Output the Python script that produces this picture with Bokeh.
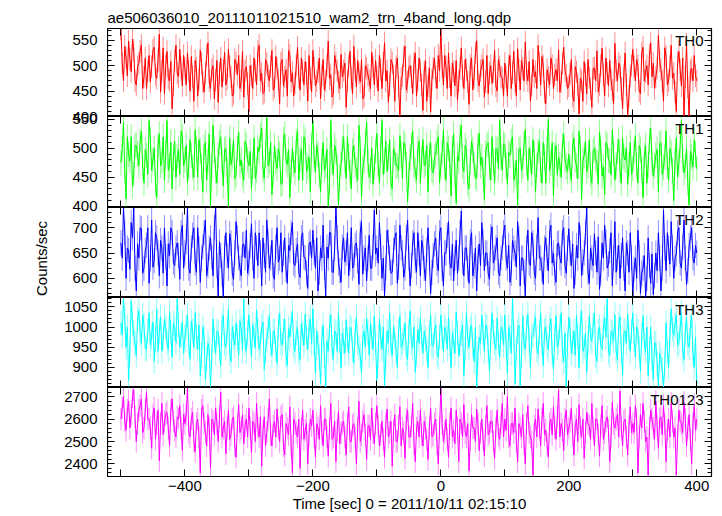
import math
from bokeh.plotting import figure
from bokeh.layouts import column, row
from bokeh.models import (Range1d, LinearAxis, SingleIntervalTicker, FixedTicker, Label,
                          CustomLabelingPolicy)
from bokeh.core.properties import value
from bokeh.embed import file_html
from bokeh.resources import INLINE

TITLE = "ae506036010_20111011021510_wam2_trn_4band_long.qdp"
X_LABEL = "Time [sec] 0 = 2011/10/11 02:15:10"
Y_LABEL = "Counts/sec"

# sample times (sec): set A every 4 s from -500, set B every 4 s from -498
TIME_A = list(range(-500, 401, 4))
TIME_B = list(range(-498, 400, 4))

BANDS = ["TH0", "TH1", "TH2", "TH3", "TH0123"]
COLORS = ["#ff0000", "#00ff00", "#0000ff", "#00ffff", "#ff00ff"]
# typical 1-sigma error of one sample (counts/sec)
ERRORS = [22, 22, 25, 31, 50]

th0_a = [572, 470, 515, 548, 488, 530, 462, 505, 540, 478, 455, 520, 498, 536, 475, 562, 490, 445, 528, 470, 415, 510, 485, 532, 460,
         495, 525, 450, 478, 510, 440, 530, 468, 485, 545, 455, 500, 472, 428, 515, 490, 462, 532, 478, 445, 505, 520, 470, 438, 498,
         410, 480, 515, 462, 540, 485, 448, 505, 470, 530, 458, 495, 425, 512, 478, 440, 520, 486, 465, 536, 452, 490, 508, 430, 475,
         530, 460, 488, 435, 512, 470, 548, 482, 445, 505, 468, 522, 490, 418, 500, 476, 538, 458, 485, 512, 440, 495, 470, 526, 462,
         478, 520, 455, 545, 490, 462, 505, 430, 515, 395, 480, 538, 468, 500, 445, 525, 472, 490, 412, 510, 460, 409, 495, 478, 520,
         573, 462, 498, 525, 440, 488, 510, 470, 535, 455, 492, 424, 515, 478, 549, 460, 500, 438, 520, 485, 465, 530, 450, 498, 476,
         505, 440, 520, 486, 468, 533, 452, 495, 546, 470, 430, 512, 488, 540, 462, 500, 425, 478, 515, 455, 492, 531, 468, 536, 480,
         460, 512, 430, 488, 405, 470, 508, 445, 476, 418, 495, 529, 462, 534, 440, 485, 510, 452, 544, 470, 498, 415, 525, 402, 480,
         532, 470, 500, 445, 536, 488, 462, 545, 505, 478, 559, 492, 430, 518, 470, 540, 485, 410, 528, 460, 402, 542, 400, 495, 520,
         470]
th0_b = [505, 538, 480, 512, 552, 470, 498, 528, 455, 515, 490, 468, 530, 482, 510, 448, 535, 500, 475, 508, 462, 540, 478, 495, 520,
         462, 490, 518, 430, 495, 472, 505, 448, 520, 470, 492, 435, 510, 485, 458, 526, 474, 498, 440, 512, 482, 455, 528, 490, 465,
         500, 455, 490, 528, 470, 445, 512, 480, 498, 452, 518, 472, 505, 460, 492, 530, 468, 440, 500, 478, 515, 462, 485, 520, 448,
         495, 470, 515, 480, 452, 500, 475, 438, 520, 490, 455, 478, 505, 470, 528, 445, 492, 510, 468, 435, 500, 482, 455, 498, 510,
         450, 492, 505, 470, 428, 512, 480, 498, 460, 475, 518, 452, 496, 478, 505, 440, 515, 462, 488, 430, 496, 472, 515, 455, 490,
         498, 520, 455, 478, 505, 460, 432, 495, 480, 512, 468, 500, 452, 525, 470, 490, 512, 468, 445, 500, 488, 460, 512, 478, 440,
         478, 500, 455, 528, 440, 492, 510, 470, 485, 508, 462, 478, 455, 505, 518, 448, 492, 462, 500, 482, 470, 448, 505, 490, 455,
         485, 440, 498, 462, 475, 430, 482, 512, 455, 495, 470, 448, 500, 482, 515, 460, 472, 425, 490, 505, 455, 480, 462, 440, 500,
         498, 512, 450, 525, 470, 500, 520, 478, 455, 495, 510, 470, 535, 462, 498, 475, 448, 505, 492, 515, 478, 458, 490, 470, 480]

th1_a = [475, 545, 413, 490, 520, 455, 505, 470, 530, 440, 488, 548, 462, 500, 415, 525, 478, 445, 548, 470, 430, 512, 485, 455, 520,
         480, 440, 515, 468, 532, 450, 495, 425, 510, 478, 400, 540, 462, 488, 520, 435, 500, 400, 472, 515, 455, 528, 480, 445, 505,
         470, 430, 518, 462, 495, 535, 448, 553, 478, 420, 505, 465, 490, 440, 525, 472, 415, 500, 458, 530, 482, 445, 512, 468, 425,
         548, 460, 490, 425, 510, 470, 400, 548, 455, 495, 402, 472, 520, 448, 485, 430, 505, 462, 540, 415, 478, 545, 450, 500, 468,
         526, 440, 548, 478, 460, 515, 430, 492, 470, 522, 448, 505, 408, 485, 530, 462, 498, 440, 515, 475, 425, 510, 458, 490, 520,
         470, 532, 445, 500, 418, 525, 405, 478, 540, 460, 495, 430, 512, 470, 448, 526, 485, 412, 505, 468, 520, 440, 498, 548, 462,
         505, 438, 488, 520, 455, 402, 500, 470, 532, 445, 480, 515, 425, 495, 462, 510, 440, 550, 475, 418, 505, 485, 450, 525, 468,
         490, 445, 518, 470, 530, 412, 488, 460, 515, 440, 500, 475, 528, 452, 420, 505, 478, 532, 445, 495, 462, 518, 480, 438, 510,
         465, 522, 440, 498, 415, 505, 470, 535, 452, 488, 425, 510, 468, 530, 445, 492, 410, 518, 475, 548, 458, 500, 402, 485, 515,
         465]
th1_b = [500, 462, 520, 478, 435, 505, 490, 512, 468, 498, 455, 515, 480, 440, 505, 470, 520, 492, 462, 510, 485, 450, 498, 530, 470,
         505, 470, 488, 450, 498, 515, 468, 502, 445, 525, 470, 495, 440, 510, 478, 498, 462, 518, 485, 448, 500, 470, 455, 512, 480,
         495, 470, 448, 502, 522, 465, 490, 470, 510, 455, 478, 500, 438, 515, 480, 498, 462, 472, 512, 445, 498, 520, 460, 485, 505,
         480, 505, 455, 478, 462, 498, 440, 475, 505, 468, 452, 500, 478, 520, 458, 495, 472, 445, 500, 465, 510, 478, 462, 438, 495,
         472, 498, 455, 512, 485, 440, 500, 470, 462, 490, 510, 472, 455, 505, 470, 445, 512, 482, 470, 505, 490, 462, 485, 510, 440,
         492, 468, 510, 475, 500, 455, 488, 520, 470, 505, 440, 478, 498, 452, 505, 470, 460, 492, 510, 445, 478, 500, 465, 485, 508,
         470, 492, 512, 445, 480, 498, 462, 508, 475, 500, 455, 490, 470, 512, 440, 485, 498, 462, 510, 490, 455, 472, 505, 480, 460,
         462, 505, 480, 448, 500, 478, 512, 470, 455, 495, 482, 438, 500, 468, 510, 480, 455, 492, 470, 515, 440, 485, 500, 472, 455,
         495, 470, 505, 462, 488, 440, 512, 480, 470, 498, 508, 455, 485, 470, 500, 462, 478, 450, 505, 482, 470, 440, 495, 468, 490]

th2_a = [670, 740, 600, 655, 710, 740, 575, 640, 698, 620, 665, 590, 715, 635, 680, 605, 660, 700, 585, 645, 690, 625, 670, 598, 705,
         650, 740, 610, 685, 630, 700, 592, 662, 715, 625, 680, 605, 740, 565, 645, 562, 690, 620, 670, 598, 712, 640, 605, 668, 695,
         630, 708, 600, 660, 690, 585, 645, 715, 620, 675, 598, 700, 640, 612, 680, 590, 655, 710, 625, 668, 602, 690, 640, 580, 672,
         695, 620, 575, 660, 705, 565, 640, 690, 612, 740, 630, 592, 680, 650, 605, 700, 625, 670, 588, 712, 640, 595, 685, 620, 735,
         660, 710, 600, 565, 695, 640, 612, 680, 590, 705, 650, 620, 715, 585, 670, 635, 690, 605, 660, 595, 700, 570, 645, 680, 615,
         700, 585, 650, 712, 620, 595, 675, 640, 733, 605, 660, 590, 690, 625, 575, 668, 710, 615, 650, 598, 702, 640, 680, 605, 660,
         705, 620, 592, 675, 650, 712, 585, 640, 565, 695, 625, 670, 600, 720, 640, 588, 680, 615, 705, 650, 592, 670, 630, 700, 610,
         698, 625, 580, 665, 710, 605, 650, 740, 590, 640, 688, 612, 578, 670, 705, 620, 655, 585, 712, 640, 600, 680, 575, 650, 690,
         565, 640, 695, 570, 620, 562, 680, 590, 568, 650, 690, 575, 735, 615, 660, 712, 600, 648, 700, 620, 715, 588, 665, 700, 630,
         650]
th2_b = [640, 690, 660, 618, 680, 620, 668, 700, 610, 655, 700, 640, 622, 690, 650, 675, 610, 642, 668, 700, 632, 660, 645, 690, 620,
         672, 620, 660, 700, 612, 658, 640, 690, 605, 660, 642, 700, 625, 672, 610, 660, 645, 688, 610, 650, 680, 620, 666, 640, 610,
         665, 640, 690, 625, 650, 680, 612, 672, 640, 605, 662, 632, 690, 650, 618, 665, 690, 630, 655, 612, 680, 642, 610, 668, 640,
         650, 680, 612, 640, 622, 662, 690, 612, 660, 680, 615, 662, 632, 690, 640, 620, 665, 635, 690, 608, 660, 640, 620, 662, 648,
         630, 662, 640, 620, 672, 610, 655, 690, 622, 660, 602, 680, 640, 625, 690, 612, 650, 675, 620, 655, 640, 612, 668, 630, 690,
         620, 650, 685, 630, 668, 640, 610, 690, 632, 660, 620, 672, 605, 660, 640, 625, 672, 650, 610, 682, 630, 660, 612, 640, 690,
         640, 665, 610, 660, 622, 678, 640, 612, 660, 630, 690, 612, 662, 640, 618, 660, 640, 690, 630, 610, 668, 640, 690, 625, 660,
         650, 668, 612, 640, 680, 632, 690, 612, 660, 625, 650, 682, 610, 640, 672, 628, 690, 640, 612, 665, 645, 620, 670, 612, 640,
         618, 600, 650, 610, 645, 600, 625, 648, 605, 615, 640, 620, 660, 690, 628, 660, 640, 690, 630, 662, 640, 615, 680, 640, 665]

th3_a = [1010, 1070, 950, 868, 1065, 985, 930, 1040, 960, 1005, 945, 1035, 975, 915, 1045, 990, 940, 1020, 962, 1038, 925, 998, 1070, 950, 1012,
         975, 1030, 920, 990, 1035, 945, 880, 1000, 870, 960, 850, 1020, 935, 985, 905, 1028, 950, 1045, 915, 975, 1010, 930, 995, 1070, 940,
         1030, 925, 980, 1042, 945, 1000, 895, 968, 1025, 930, 990, 910, 1035, 955, 1020, 905, 975, 1038, 940, 1000, 920, 985, 1032, 945, 1020,
         1045, 885, 960, 860, 1005, 850, 940, 1030, 920, 985, 1035, 900, 965, 1018, 935, 995, 910, 1025, 948, 885, 990, 1022, 930, 975, 1028,
         870, 1020, 945, 855, 990, 1035, 930, 975, 900, 1028, 960, 1010, 920, 1040, 948, 888, 995, 1022, 935, 970, 900, 1030, 952, 1005, 925,
         1030, 940, 990, 1025, 900, 965, 1038, 928, 985, 880, 1035, 950, 1005, 915, 850, 975, 1030, 940, 1000, 890, 1035, 960, 1022, 925, 995,
         1030, 885, 975, 1073, 860, 990, 855, 1028, 945, 1032, 900, 980, 1025, 935, 1035, 905, 1000, 945, 1020, 895, 1028, 962, 1035, 915, 850,
         1025, 935, 990, 1030, 900, 1040, 950, 888, 1028, 965, 1035, 915, 1000, 945, 1022, 1070, 930, 985, 1030, 920, 1025, 880, 990, 1032, 940,
         1035, 925, 990, 890, 1028, 940, 880, 1000, 870, 960, 855, 920, 850, 1010, 900, 1045, 980, 1030, 960, 1035, 920, 1025, 950, 1028, 900,
         855]
th3_b = [980, 1020, 1000, 945, 1010, 960, 1020, 985, 1030, 948, 990, 955, 1012, 968, 940, 1025, 972, 1000, 945, 985, 1010, 962, 1005, 980, 935,
         1000, 958, 1015, 950, 975, 1005, 930, 975, 920, 945, 925, 968, 990, 945, 1010, 960, 990, 935, 1000, 955, 975, 1015, 942, 960, 985,
         975, 1005, 948, 990, 960, 1012, 940, 1000, 958, 990, 945, 1000, 962, 990, 930, 998, 1010, 955, 985, 940, 1008, 955, 975, 1000, 960,
         960, 990, 925, 970, 930, 965, 1000, 950, 990, 940, 965, 985, 935, 970, 1000, 945, 985, 960, 930, 975, 950, 985, 1010, 945, 960,
         930, 975, 1000, 925, 960, 955, 1000, 942, 990, 950, 975, 935, 990, 962, 1000, 935, 960, 975, 990, 945, 980, 955, 990, 935, 975,
         975, 1000, 945, 960, 985, 935, 985, 960, 1005, 945, 975, 995, 955, 1000, 935, 960, 985, 1005, 945, 970, 988, 945, 960, 1000, 955,
         955, 1000, 935, 980, 945, 1005, 930, 960, 998, 965, 975, 1005, 945, 985, 960, 990, 955, 1000, 935, 975, 950, 1000, 940, 985, 960,
         990, 960, 930, 975, 1010, 940, 985, 960, 975, 1005, 930, 990, 955, 1000, 975, 940, 990, 965, 940, 1005, 945, 985, 960, 975, 990,
         970, 1000, 945, 980, 960, 1000, 945, 925, 960, 910, 935, 895, 905, 940, 985, 995, 1005, 955, 1000, 940, 985, 960, 1000, 935, 975]

th0123_a = [2600, 2700, 2550, 2680, 2620, 2730, 2500, 2640, 2690, 2560, 2720, 2600, 2470, 2650, 2580, 2414, 2670, 2590, 2630, 2480, 2690, 2550, 2610, 2660, 2460,
            2580, 2741, 2520, 2630, 2455, 2600, 2360, 2660, 2540, 2620, 2380, 2590, 2650, 2500, 2720, 2560, 2445, 2640, 2530, 2610, 2430, 2665, 2560, 2490, 2600,
            2650, 2450, 2580, 2670, 2520, 2390, 2610, 2540, 2690, 2480, 2590, 2645, 2500, 2620, 2440, 2560, 2655, 2360, 2580, 2520, 2380, 2640, 2550, 2400, 2600,
            2640, 2430, 2560, 2660, 2480, 2600, 2435, 2670, 2520, 2410, 2635, 2540, 2590, 2440, 2655, 2500, 2580, 2400, 2680, 2530, 2620, 2420, 2570, 2650, 2490,
            2660, 2480, 2590, 2430, 2645, 2540, 2390, 2620, 2500, 2655, 2560, 2425, 2640, 2520, 2670, 2410, 2590, 2640, 2480, 2560, 2420, 2650, 2530, 2600, 2400,
            2741, 2500, 2600, 2430, 2650, 2550, 2640, 2410, 2580, 2665, 2520, 2370, 2620, 2560, 2645, 2460, 2600, 2435, 2660, 2540, 2590, 2425, 2640, 2510, 2670,
            2600, 2700, 2480, 2580, 2650, 2410, 2560, 2620, 2400, 2660, 2520, 2350, 2600, 2645, 2480, 2670, 2550, 2430, 2600, 2655, 2510, 2730, 2580, 2460, 2640,
            2560, 2650, 2440, 2600, 2665, 2520, 2425, 2630, 2570, 2670, 2480, 2600, 2435, 2660, 2540, 2610, 2410, 2675, 2560, 2620, 2725, 2480, 2600, 2440, 2655,
            2580, 2660, 2360, 2620, 2670, 2500, 2350, 2640, 2560, 2680, 2470, 2610, 2660, 2410, 2600, 2670, 2520, 2350, 2640, 2580, 2675, 2480, 2620, 2400, 2660,
            2600]
th0123_b = [2650, 2590, 2640, 2560, 2700, 2610, 2580, 2660, 2540, 2640, 2600, 2560, 2620, 2510, 2640, 2580, 2530, 2620, 2560, 2640, 2590, 2520, 2600, 2560, 2620,
            2620, 2540, 2600, 2500, 2580, 2520, 2640, 2580, 2480, 2560, 2600, 2530, 2580, 2610, 2520, 2590, 2560, 2510, 2600, 2480, 2570, 2540, 2620, 2570, 2520,
            2560, 2590, 2500, 2560, 2610, 2550, 2480, 2600, 2530, 2570, 2520, 2560, 2610, 2480, 2580, 2530, 2480, 2600, 2540, 2600, 2560, 2510, 2580, 2530, 2570,
            2520, 2580, 2510, 2540, 2600, 2520, 2560, 2510, 2590, 2550, 2490, 2580, 2520, 2580, 2500, 2570, 2520, 2560, 2500, 2590, 2530, 2570, 2510, 2540, 2580,
            2570, 2530, 2510, 2580, 2520, 2590, 2550, 2500, 2570, 2480, 2540, 2600, 2520, 2570, 2490, 2560, 2520, 2530, 2590, 2510, 2560, 2520, 2580, 2490, 2560,
            2580, 2540, 2510, 2580, 2520, 2490, 2560, 2600, 2520, 2540, 2580, 2510, 2560, 2500, 2580, 2540, 2510, 2570, 2530, 2590, 2500, 2560, 2530, 2580, 2520,
            2550, 2520, 2580, 2540, 2500, 2580, 2520, 2490, 2580, 2540, 2500, 2570, 2520, 2560, 2600, 2530, 2490, 2580, 2530, 2560, 2610, 2520, 2550, 2600, 2530,
            2590, 2530, 2570, 2500, 2560, 2600, 2540, 2580, 2510, 2560, 2600, 2530, 2570, 2510, 2590, 2550, 2520, 2580, 2600, 2520, 2560, 2590, 2520, 2570, 2540,
            2540, 2600, 2520, 2560, 2590, 2520, 2560, 2600, 2510, 2570, 2600, 2530, 2580, 2550, 2520, 2590, 2560, 2520, 2590, 2540, 2600, 2560, 2510, 2580, 2550]

SERIES_A = [th0_a, th1_a, th2_a, th3_a, th0123_a]
SERIES_B = [th0_b, th1_b, th2_b, th3_b, th0123_b]

X_START, X_END = -521, 423
Y_RANGES = [(400, 573), (398, 555), (562, 740), (850.5, 1073), (2344, 2741)]
Y_STEP = [50, 50, 50, 50, 100]
Y_TICKS = [[400, 450, 500, 550], [400, 450, 500, 550], [600, 650, 700],
           [900, 950, 1000, 1050], [2400, 2500, 2600, 2700]]
X_TICKS = [-500, -400, -300, -200, -100, 0, 100, 200, 300, 400]
X_TICK_LABELS = {-500: "", -400: "\u2212400", -300: "", -200: "\u2212200", -100: "",
                 0: "0", 100: "", 200: "200", 300: "", 400: "400"}

FONT = "Liberation Sans"
FRAME_W = 604
FRAME_H = [88, 91, 90, 90, 89]
TOP_BORDER = 28
BOTTOM_BORDER = 39
LEFT_W = 107
RIGHT_BORDER = 4
TOTAL_H = TOP_BORDER + sum(FRAME_H) + BOTTOM_BORDER

NO_LABELS = CustomLabelingPolicy(code="""
const all = [];
for (const i of indices) all.push(i);
for (const i of all) indices.unset(i);
return indices;
""")

# ---- left strip carrying the y tick labels and the y axis title ----
left_fig = figure(width=LEFT_W, height=TOTAL_H, x_range=Range1d(0, LEFT_W),
                  y_range=Range1d(0, TOTAL_H), output_backend="svg",
                  toolbar_location=None, x_axis_location=None, y_axis_location=None,
                  min_border=0, min_border_left=0, min_border_right=0,
                  min_border_top=0, min_border_bottom=0)
left_fig.outline_line_color = None
left_fig.grid.visible = False
left_fig.background_fill_color = "white"
left_fig.border_fill_color = "white"

x_range = Range1d(X_START, X_END)
figs = []
n = len(BANDS)
px_top = TOP_BORDER
for i in range(n):
    first = i == 0
    last = i == n - 1
    top = TOP_BORDER if first else 0
    bot = BOTTOM_BORDER if last else 0
    a, b = Y_RANGES[i]

    # matching range in the left strip so that tick labels line up with this panel
    k = (b - a) / FRAME_H[i]
    px_bot = px_top + FRAME_H[i]
    rname = "p%d" % i
    left_fig.extra_y_ranges[rname] = Range1d(a - (TOTAL_H - px_bot) * k, b + px_top * k)
    left_fig.text(x=[97] * len(Y_TICKS[i]), y=Y_TICKS[i], text=[str(t) for t in Y_TICKS[i]],
                  y_range_name=rname, text_align="right", text_baseline="middle",
                  text_font=value(FONT), text_font_size="15px", text_color="black")
    px_top = px_bot

    p = figure(width=FRAME_W + RIGHT_BORDER, height=FRAME_H[i] + top + bot,
               x_range=x_range, y_range=Range1d(a, b),
               output_backend="svg", toolbar_location=None,
               x_axis_location=None, y_axis_location=None,
               min_border_left=0, min_border_right=RIGHT_BORDER,
               min_border_top=top, min_border_bottom=bot,
               title=TITLE if first else None)
    p.grid.visible = False
    p.outline_line_color = "black"
    p.outline_line_width = 1.2
    p.background_fill_color = "white"
    p.border_fill_color = "white"
    if first:
        p.title.text_font = FONT
        p.title.text_font_size = "15px"
        p.title.text_font_style = "normal"
        p.title.text_color = "black"
        p.title.align = "left"
        p.title.offset = 0
        p.title.standoff = 5

    def yaxis():
        ax = LinearAxis(ticker=SingleIntervalTicker(interval=Y_STEP[i], num_minor_ticks=5),
                        major_tick_in=7, major_tick_out=0,
                        minor_tick_in=4, minor_tick_out=0,
                        axis_line_color="black", major_tick_line_color="black",
                        minor_tick_line_color="black",
                        major_label_text_font_size="0px", major_label_standoff=0,
                        major_label_policy=NO_LABELS)
        return ax

    def xaxis(labels):
        ax = LinearAxis(ticker=FixedTicker(ticks=X_TICKS),
                        major_tick_in=7, major_tick_out=0,
                        minor_tick_line_color=None,
                        axis_line_color="black", major_tick_line_color="black")
        if labels:
            ax.major_label_overrides = X_TICK_LABELS
            ax.major_label_text_font = FONT
            ax.major_label_text_font_size = "15px"
            ax.major_label_text_color = "black"
            ax.major_label_standoff = 4
            ax.axis_label = X_LABEL
            ax.axis_label_text_font = FONT
            ax.axis_label_text_font_size = "15px"
            ax.axis_label_text_font_style = "normal"
            ax.axis_label_text_color = "black"
            ax.axis_label_standoff = 1
        else:
            ax.major_label_text_font_size = "0px"
            ax.major_label_standoff = 0
            ax.major_label_policy = NO_LABELS
        return ax

    p.add_layout(yaxis(), "left")
    p.add_layout(yaxis(), "right")
    p.add_layout(xaxis(last), "below")
    p.add_layout(xaxis(False), "above")

    # merge the two interleaved sample sets in time order
    ta, va = TIME_A, SERIES_A[i]
    tb, vb = TIME_B, SERIES_B[i]
    ts, vs = [], []
    for k2 in range(len(ta)):
        ts.append(ta[k2]); vs.append(va[k2])
        if k2 < len(tb):
            ts.append(tb[k2]); vs.append(vb[k2])
    err = ERRORS[i]
    p.segment(x0=ts, y0=[v - err for v in vs], x1=ts, y1=[v + err for v in vs],
              line_color=COLORS[i], line_alpha=0.45, line_width=1)
    p.line(ts, vs, line_color=COLORS[i], line_width=1)

    p.add_layout(Label(x=X_END, y=b, x_offset=-8, y_offset=-3,
                       text=BANDS[i], text_align="right", text_baseline="top",
                       text_font=FONT, text_font_size="15px", text_color="black"))
    figs.append(p)

left_fig.add_layout(Label(x=41, y=TOTAL_H - 258, text=Y_LABEL, angle=math.pi / 2,
                          text_align="center", text_baseline="middle",
                          text_font=FONT, text_font_size="15px", text_color="black"))

layout = row(left_fig, column(*figs, spacing=0), spacing=0)
open("out.html", "w").write(file_html(layout, INLINE))
